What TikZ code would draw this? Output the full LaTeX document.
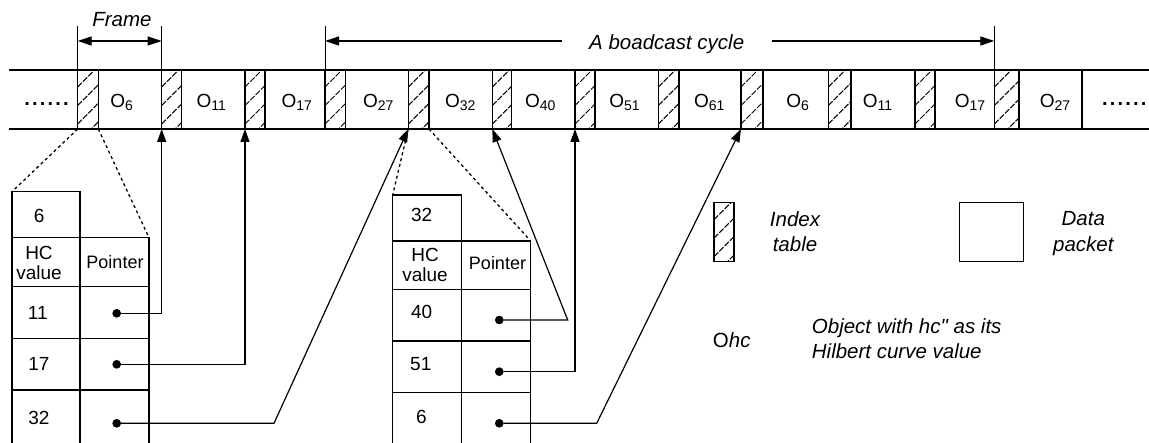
\documentclass[tikz,border=0pt]{standalone}
\usepackage{fontspec}
\setmainfont{Liberation Sans}[Ligatures=TeXOff]
\usetikzlibrary{arrows.meta}
\newcommand\sbs[1]{\raisebox{-2.7pt}{\fontsize{14}{14}\selectfont #1}}
\begin{document}
\begin{tikzpicture}[x=1pt,y=-1pt,
  idxbox/.style={draw, line width=1.4pt, rectangle, inner sep=0pt, outer sep=0pt, minimum height=59pt, anchor=north west,
    path picture={\foreach \k in {-1,...,3}{\draw[line width=1pt, dash pattern=on 6pt off 1.5pt] ([yshift=\k*18.5pt+5pt]path picture bounding box.south west) -- ++(62pt,62pt);}}},
  pkbox/.style={draw, line width=1.4pt, rectangle, inner sep=0pt, outer sep=0pt, minimum height=59pt, anchor=north west},
  cell/.style={draw, line width=1.2pt, rectangle, inner sep=0pt, outer sep=0pt, anchor=north west},
  olab/.style={anchor=base, inner sep=0pt, font=\fontsize{19}{19}\selectfont},
  tnum/.style={inner sep=0pt, font=\fontsize{19}{20}\selectfont, align=center},
  ptr/.style={inner sep=0pt, font=\fontsize{18}{18}\selectfont},
  itxt/.style={inner sep=0pt, font=\fontsize{20.5}{25.3}\selectfont\itshape},
  ptdot/.style={circle, fill=black, draw=black, line width=0.6pt, inner sep=0pt, minimum size=8pt},
  conn/.style={line width=1.2pt, -{Triangle[length=13pt,width=9pt]}},
  dotl/.style={line width=1.3pt, dash pattern=on 3pt off 3pt},
  ext/.style={line width=0.9pt},
  dim/.style={line width=1.2pt},
]
\useasboundingbox (0,0) rectangle (1149,443);
\clip (0,0) rectangle (1149,443);

% broadcast band
\foreach \i/\l/\r/\n/\cx/\lab in {0/77.7/98.3/161.7/121.7/6, 1/161.7/181.7/245/211.3/11, 2/245/265/325/296.7/17, 3/325/345.7/408.3/378.3/27, 4/408.3/429/492.3/460.3/32, 5/492.3/511.7/575/540.3/40, 6/575/595/658.3/624.5/51, 7/658.3/679/741/709.2/61, 8/741/763/828.3/797.7/6, 9/828.3/851/915/877.5/11, 10/915/935/994.3/970/17, 11/994.3/1019/1082/1055/27}{
  \node[idxbox, minimum width=\r-\l] (idx\i) at (\l,70) {};
  \node[pkbox, minimum width=\n-\r] (pk\i) at (\r,70) {};
  \node[olab] (lb\i) at (\cx,107.5) {O\sbs{\lab}};
}
\draw[line width=1.5pt] (9,70) -- (1149,70);
\draw[line width=1.5pt] (9,129) -- (1149,129);
\node[olab, font=\fontsize{20}{20}\selectfont\bfseries] (dl) at (46.5,105.5) {.\kern2.2pt.\kern2.2pt.\kern2.2pt.\kern2.2pt.\kern2.2pt.};
\node[olab, font=\fontsize{20}{20}\selectfont\bfseries] (dr) at (1124.2,105.5) {.\kern2.2pt.\kern2.2pt.\kern2.2pt.\kern2.2pt.\kern2.2pt.};

% dimension lines
\foreach \j in {0,1,3,11}{
  \coordinate (e\j) at ([yshift=44pt]idx\j.north west);
  \coordinate (m\j) at ([yshift=29pt]idx\j.north west);
  \draw[ext] (idx\j.north west) -- (e\j);
}
\draw[dim, {Triangle[length=14pt,width=9pt]}-{Triangle[length=14pt,width=9pt]}] (m0) -- (m1);
\node[itxt, anchor=base] (frame) at (122,26.5) {Frame};
\node[itxt, anchor=base] (bc) at (666.7,50) {A boadcast cycle};
\coordinate (g1) at (561.7,41);
\coordinate (g2) at (771.7,41);
\draw[dim, {Triangle[length=14pt,width=9pt]}-] (m3) -- (g1);
\draw[dim, -{Triangle[length=14pt,width=9pt]}] (g2) -- (m11);

% table 1
\node[cell, minimum width=68, minimum height=46] (ah) at (12,191.7) {};
\node[cell, minimum width=68, minimum height=49] (ahc) at (12,237.7) {};
\node[cell, minimum width=69, minimum height=49] (ap) at (80,237.7) {};
\node[cell, minimum width=68, minimum height=51.6] (a1) at (12,286.7) {};
\node[cell, minimum width=69, minimum height=51.6] (b1) at (80,286.7) {};
\node[cell, minimum width=68, minimum height=51.7] (a2) at (12,338.3) {};
\node[cell, minimum width=69, minimum height=51.7] (b2) at (80,338.3) {};
\node[cell, minimum width=68, minimum height=60] (a3) at (12,390) {};
\node[cell, minimum width=69, minimum height=60] (b3) at (80,390) {};
\node[tnum] (ta0) at (39.2,215.8) {6};
\node[tnum] (ta1) at (39,263.2) {HC\\value};
\node[ptr] (ta2) at (115,261.7) {Pointer};
\node[tnum] (ta3) at (37.8,313.3) {11};
\node[tnum] (ta4) at (39,364) {17};
\node[tnum] (ta5) at (39,417.5) {32};
\node[ptdot] (p11) at (116.7,313.3) {};
\node[ptdot] (p17) at (116.7,364.3) {};
\node[ptdot] (p32) at (116.7,423.3) {};

% table 2
\node[cell, minimum width=68.6, minimum height=46] (ch) at (392.7,195) {};
\node[cell, minimum width=68.6, minimum height=48.3] (chc) at (392.7,241) {};
\node[cell, minimum width=69.4, minimum height=48.3] (cp) at (461.3,241) {};
\node[cell, minimum width=68.6, minimum height=51.7] (c1) at (392.7,289.3) {};
\node[cell, minimum width=69.4, minimum height=51.7] (d1) at (461.3,289.3) {};
\node[cell, minimum width=68.6, minimum height=51.7] (c2) at (392.7,341) {};
\node[cell, minimum width=69.4, minimum height=51.7] (d2) at (461.3,341) {};
\node[cell, minimum width=68.6, minimum height=60] (c3) at (392.7,392.7) {};
\node[cell, minimum width=69.4, minimum height=60] (d3) at (461.3,392.7) {};
\node[tnum] (tb0) at (421.7,214.7) {32};
\node[tnum] (tb1) at (425,264.8) {HC\\value};
\node[ptr] (tb2) at (497.5,263.3) {Pointer};
\node[tnum] (tb3) at (421.7,312) {40};
\node[tnum] (tb4) at (420.8,363.8) {51};
\node[tnum] (tb5) at (421.3,416.7) {6};
\node[ptdot] (p40) at (499.3,320) {};
\node[ptdot] (p51) at (499.3,371.7) {};
\node[ptdot] (p6) at (499.3,423.3) {};

% zoom (dotted) lines
\draw[dotl] (idx0.south west) -- (ah.north west);
\draw[dotl] (idx0.south east) -- (ap.north east);
\draw[dotl] (idx4.south west) -- (ch.north west);
\draw[dotl] (idx4.south east) -- (cp.north east);

% pointers
\coordinate (k32) at (274,423.3);
\coordinate (k40) at (567.7,320);
\coordinate (k6) at (596.7,423.3);
\draw[conn] (p11) -| (idx1.south west);
\draw[conn] (p17) -| (idx2.south west);
\draw[conn] (p32) -- (k32) -- (idx4.south west);
\draw[conn] (p40) -- (k40) -- (idx5.south west);
\draw[conn] (p51) -| (idx6.south west);
\draw[conn] (p6) -- (k6) -- (idx8.south west);

% legend
\node[idxbox, minimum width=20pt] (lgi) at (714,202.7) {};
\node[itxt, align=center] (lgit) at (795,231.5) {Index\\table};
\node[pkbox, minimum width=64pt] (lgp) at (959.3,202.7) {};
\node[itxt, align=center] (lgpt) at (1083.3,233.6) {Data\\packet};
\node[inner sep=0pt, font=\fontsize{20.5}{20.5}\selectfont] (ohc) at (731.7,340) {O\textit{hc}};
\node[itxt, align=left, anchor=west] (obj) at (811.7,339) {Object with hc" as its\\Hilbert curve value};
\end{tikzpicture}
\end{document}
